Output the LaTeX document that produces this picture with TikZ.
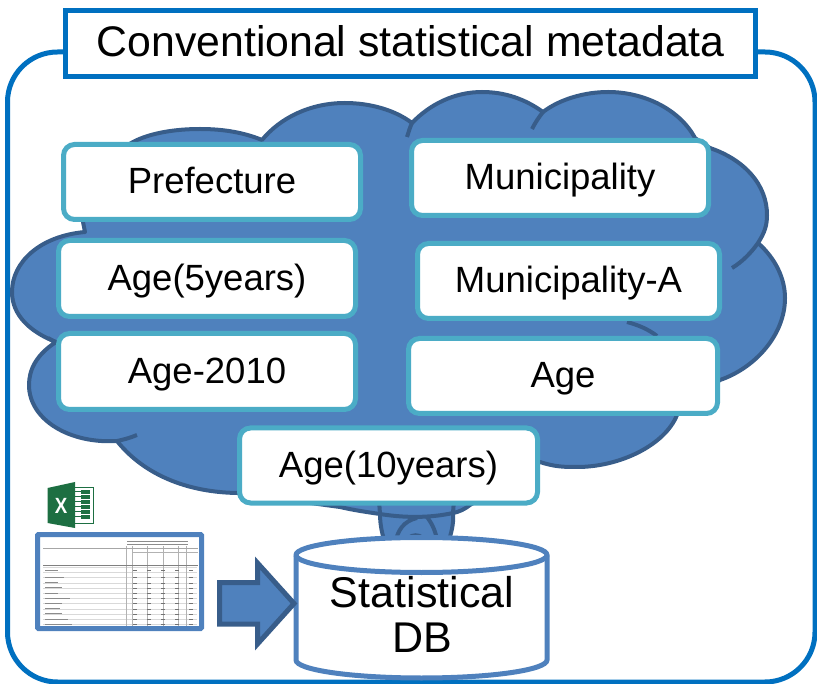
\documentclass[tikz,border=0pt]{standalone}
\usepackage{fontspec}
\setmainfont{Liberation Sans}
\usepackage{tikz}
\definecolor{frameblue}{HTML}{0070C0}
\definecolor{cloudfill}{HTML}{4F81BD}
\definecolor{cloudline}{HTML}{385D8A}
\definecolor{boxline}{HTML}{4BACC6}
\definecolor{xlgreen}{HTML}{1D6F42}
\newcommand{\figuresize}{1pt}
\newcommand{\makemeta}[6]{
	\node [metabox, minimum width=#4, minimum height=#5] (#1) at (#2,#3) {#6};
}
\tikzset{
	metabox/.style={draw=boxline, fill=white, line width=5pt, rounded corners=11pt, font=\fontsize{36.5}{36.5}\selectfont, inner sep=0pt, text height=26pt, text depth=2pt},
	lobe/.style={draw=cloudline, line width=4pt, line cap=butt},
	stub/.style={draw=cloudline, line width=4pt},
}
\begin{document}
\begin{tikzpicture}[x=\figuresize,y=-\figuresize]
	\useasboundingbox (0,0) rectangle (817,684);
	% outer frame
	\draw[frameblue, line width=5pt, rounded corners=50pt] (7.5,52) rectangle (815,682);
	\node [draw=frameblue, fill=white, line width=5pt, minimum width=690pt, minimum height=66pt, inner sep=0pt, font=\fontsize{42.8}{42.8}\selectfont, text height=30.6pt, text depth=4.6pt] (title) at (410.7,43.5) {Conventional statistical metadata};

	% cloud
	\coordinate (a) at (85,232);
	\coordinate (b) at (56,342);
	\coordinate (c) at (117,441);
	\coordinate (d) at (237,493);
	\coordinate (e) at (340,507);
	\coordinate (f) at (470,505);
	\coordinate (g) at (540,462);
	\coordinate (h) at (677,415);
	\coordinate (i) at (720,380);
	\coordinate (j) at (758,243);
	\coordinate (k) at (710,148);
	\coordinate (l) at (695,138);
	\coordinate (m) at (543,112);
	\coordinate (n) at (412,123);
	\coordinate (o) at (262,140);
	\coordinate (p) at (133,142);
	\filldraw[fill=cloudfill, lobe, line join=round]
		(a) .. controls (40,236) and (12,262) .. (12,292)
		.. controls (12,315) and (30,332) .. (b)
		.. controls (36,355) and (29,370) .. (29,385)
		.. controls (29,420) and (70,444) .. (c)
		.. controls (140,470) and (180,492) .. (d)
		-- (e) .. controls (353,510) and (366,512) .. (380,514)
		.. controls (380,524) and (382,535) .. (386,545)
		-- (447,545) .. controls (451,535) and (454,524) .. (453,513)
		.. controls (459,512) and (465,509) .. (f) -- (g) .. controls (555,467) and (565,467) .. (577,467)
		.. controls (620,467) and (665,445) .. (h) -- (i)
		.. controls (755,368) and (785,335) .. (785,298)
		.. controls (785,278) and (775,258) .. (j)
		.. controls (765,232) and (767,225) .. (767,215)
		.. controls (767,185) and (745,160) .. (k) -- (l)
		.. controls (680,110) and (645,92) .. (608,92)
		.. controls (585,92) and (560,99) .. (m)
		.. controls (525,99) and (505,92) .. (482,92)
		.. controls (455,92) and (430,104) .. (n)
		.. controls (395,110) and (370,103) .. (345,103)
		.. controls (310,103) and (280,118) .. (o)
		.. controls (245,133) and (225,129) .. (200,129)
		.. controls (175,129) and (150,133) .. (p)
		-- (84,170) -- (83,222) -- cycle;
	\draw[stub] (407,137) .. controls (409,131) and (410,127) .. (n);
	\draw[stub] (532,129) .. controls (535,123) and (539,117) .. (m);
	\draw[stub] (732,268) .. controls (742,262) and (751,253) .. (j);
	\draw[stub] (627,322) .. controls (638,325) and (648,329) .. (657,336);
	\draw[stub] (137,435) .. controls (130,438) and (122,440) .. (c);
	\draw[stub] (55,342) -- (48,338);
	\draw[stub] (380,514) .. controls (405,518) and (430,518) .. (453,513);
	\draw[stub] (380,514) -- (379,500);
	\draw[stub] (453,513) -- (454,500);
	\draw[stub] (395,545) .. controls (397,530) and (404,521) .. (417,518);
	\draw[stub] (438,545) .. controls (436,532) and (433,525) .. (427,517);
	\draw[stub] (405,545) .. controls (407,532) and (424,532) .. (427,545);

	\makemeta{prefecture}{212}{182}{297pt}{75pt}{Prefecture}
	\makemeta{municipality}{560}{178}{297pt}{75pt}{Municipality}
	\makemeta{agefive}{207}{278.5}{297pt}{76pt}{Age(5years)}
	\makemeta{municipalitya}{568.5}{281}{302pt}{75pt}{Municipality-A}
	\makemeta{agetwenty}{207}{371.5}{297pt}{76pt}{Age-2010}
	\makemeta{age}{563}{376}{309pt}{75pt}{Age}
	\makemeta{ageten}{388.5}{465.5}{298pt}{75pt}{Age(10years)}

	% database
	\filldraw[fill=white, draw=cloudfill, line width=5pt]
		(296,555) arc[x radius=125.5pt, y radius=17.5pt, start angle=180, end angle=0]
		-- (547,660) arc[x radius=125.5pt, y radius=18pt, start angle=0, end angle=-180] -- cycle;
	\draw[cloudfill, line width=5pt] (296,555) arc[x radius=125.5pt, y radius=17.5pt, start angle=180, end angle=360];
	\node [align=center, font=\fontsize{43}{45}\selectfont, inner sep=0pt] (db) at (422,614) {Statistical\\DB};

	% block arrow
	\filldraw[fill=cloudfill, draw=cloudline, line width=5pt, miter limit=10]
		(219.5,582.5) -- (257.5,582.5) -- (257.5,563) -- (294,603.5) -- (257.5,644) -- (257.5,624) -- (219.5,624) -- cycle;

	% spreadsheet picture
	\draw[fill=white, draw=cloudfill, line width=5pt, rounded corners=1pt] (37.5,534.5) rectangle (201.5,628.5);
	\foreach \y in {567,572,577.5,583,588,593,598,603.5,609,614,619,624}
		\draw[black!15, line width=0.7pt] (43,\y) -- (197,\y);
	\foreach \x in {126,132,147,163,178,186}
		\draw[black!30, line width=0.5pt] (\x,546) -- (\x,626);
	\draw[black!50, line width=0.8pt] (43,565) -- (198,565);
	\draw[black!45, line width=0.8pt] (127,541) -- (188,541);
	\draw[black!45, line width=0.8pt] (127,544) -- (188,544);
	\draw[black!35, line width=0.6pt] (43,548) -- (198,548);
	\draw[black!30, line width=0.6pt] (132,552) -- (198,552);
	\foreach \y in {570,577.5,583,588,593,598,603,609,614,619,624}
		\draw[black!55, line width=1pt, dash pattern=on 4pt off 10pt] (133,\y) -- (197,\y);
	\foreach \y/\w in {570/58,577/64,582/58,587/62,593/58,598/70,603/62,608/60,613/62,619/68,624/72}
		\draw[black!45, line width=1pt] (45,\y) -- (\w,\y);

	% excel icon
	\fill[white, draw=xlgreen, line width=0.8pt] (72,487) rectangle (93.5,523);
	\foreach \y in {490,495,500,505,510,515}{
		\fill[xlgreen] (81,\y) rectangle (90,\y+3.7);
		\draw[xlgreen, line width=0.7pt] (75,\y+1.8) -- (81,\y+1.8);
	}
	\fill[xlgreen] (47.5,488) -- (75,482) -- (75,528) -- (47.5,523) -- cycle;
	\node [white, font=\bfseries\fontsize{22}{22}\selectfont, inner sep=0pt, xscale=0.85] (xl) at (61,505.5) {X};
\end{tikzpicture}
\end{document}
